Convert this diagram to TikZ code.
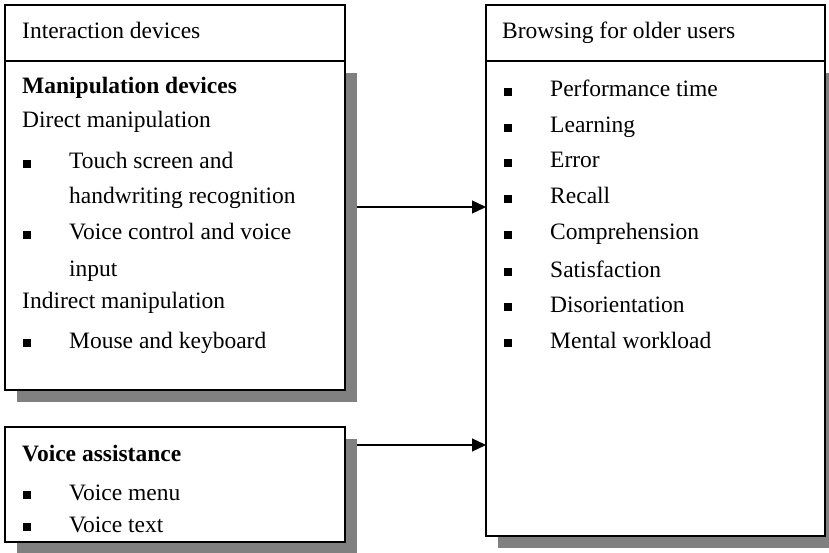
\documentclass[tikz,border=0pt]{standalone}
\usepackage{fontspec}
\setmainfont{Liberation Serif}
\usetikzlibrary{arrows.meta,calc}
\begin{document}
\begin{tikzpicture}[x=1pt,y=-1pt,
  frame/.style={draw=black, line width=1.3pt, fill=white, rectangle, inner sep=0pt, outer sep=0pt, anchor=north west},
  shadowbox/.style={fill=black!50},
  txt/.style={anchor=base west, inner sep=0pt, font=\fontsize{23.5}{28}\selectfont},
  boldtxt/.style={txt, font=\fontsize{23.5}{28}\selectfont\bfseries},
  link/.style={draw=black, line width=1.3pt, -{Triangle[length=14pt,width=13pt]}}
]
\useasboundingbox (0,0) rectangle (829,553);

% drop shadows under the content boxes
\fill[shadowbox] (17,73) rectangle (357,402);
\fill[shadowbox] (17,439) rectangle (357,560);
\fill[shadowbox] (498,73) rectangle (840,548);

% left column: interaction devices
\node[frame, minimum width=340pt, minimum height=56pt] (ihead) at (5,5) {};
\node[frame, minimum width=340pt, minimum height=329pt] (manip) at (5,61) {};
\node[frame, minimum width=340pt, minimum height=115pt] (voice) at (5,427) {};

% right column: browsing measures
\node[frame, minimum width=339pt, minimum height=56pt] (bhead) at (486,5) {};
\node[frame, minimum width=339pt, minimum height=475pt] (browse) at (486,61) {};

% headings
\node[txt] (t-ihead) at (22,39) {Interaction devices};
\node[txt] (t-bhead) at (502,39) {Browsing for older users};

% manipulation devices
\node[boldtxt] (t-manip) at (22,94) {Manipulation devices};
\node[txt] (t-direct) at (22,128) {Direct manipulation};
\node[txt] (t-touch1) at (69,169) {Touch screen and};
\node[txt] (t-touch2) at (69,204) {handwriting recognition};
\node[txt] (t-vc1) at (69,240) {Voice control and voice};
\node[txt] (t-vc2) at (69,276) {input};
\node[txt] (t-indirect) at (22,308) {Indirect manipulation};
\node[txt] (t-mouse) at (69,348) {Mouse and keyboard};
\foreach \y in {169,240,348} \fill (23,\y-9) rectangle (31,\y-1);

% voice assistance
\node[boldtxt] (t-voice) at (22,461) {Voice assistance};
\node[txt] (t-vmenu) at (69,500) {Voice menu};
\node[txt] (t-vtext) at (69,532) {Voice text};
\foreach \y in {500,532} \fill (23,\y-9) rectangle (31,\y-1);

% outcome measures
\foreach \y/\label [count=\i] in {97/Performance time, 133/Learning, 168/Error, 204/Recall,
    240/Comprehension, 277/Satisfaction, 312/Disorientation, 348/Mental workload} {
  \node[txt] (m\i) at (550,\y) {\label};
  \fill (504,\y-9) rectangle (512,\y-1);
}

% connectors
\coordinate (from-manip) at (357,207);
\coordinate (from-voice) at (357,445);
\draw[link] (from-manip) -- (from-manip -| browse.west);
\draw[link] (from-voice) -- (from-voice -| browse.west);
\end{tikzpicture}
\end{document}
